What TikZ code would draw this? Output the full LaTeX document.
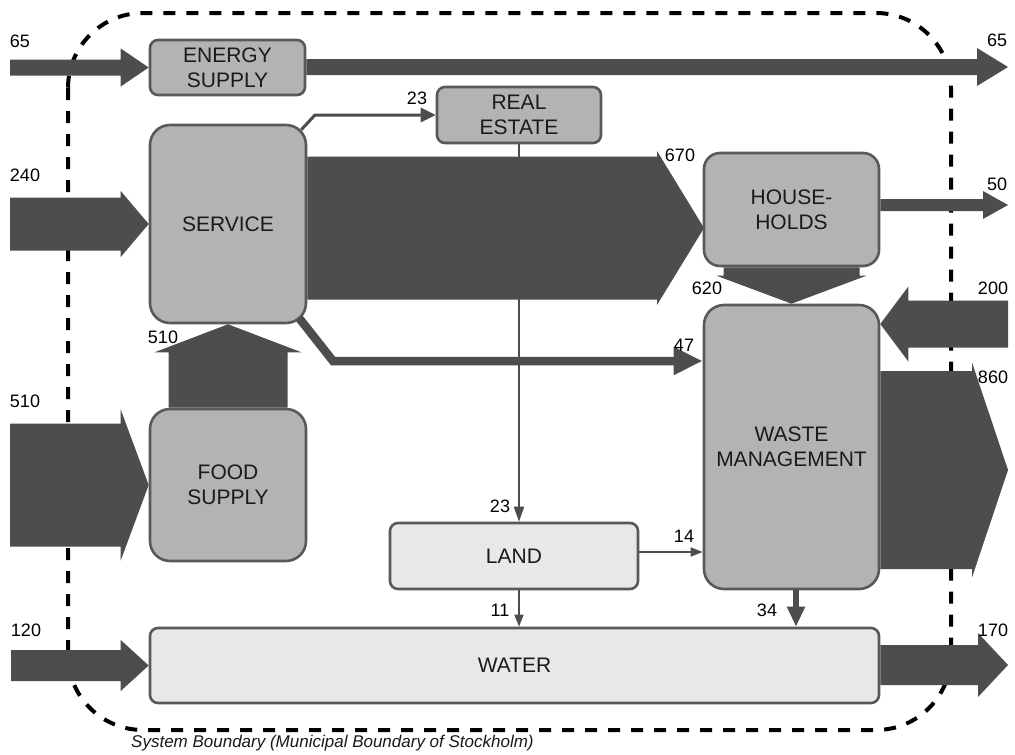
\documentclass[tikz,border=0pt]{standalone}
\usepackage{fontspec}
\setmainfont{Liberation Sans}
\usetikzlibrary{arrows.meta,calc,backgrounds}
\definecolor{flowc}{HTML}{4D4D4D}
\definecolor{boxfill}{HTML}{B3B3B3}
\definecolor{boxline}{HTML}{595959}
\definecolor{lightfill}{HTML}{E8E8E8}
\definecolor{txt}{HTML}{1A1A1A}
% horizontal block arrow: tail, tip, body half width, head half width, signed head length
\newcommand{\fatH}[5]{%
  \fill[flow] let \p1=(#1),\p2=(#2) in
  ({\x1},{\y2+#3pt}) -- ({\x2-(#5pt)},{\y2+#3pt}) -- ({\x2-(#5pt)},{\y2+#4pt}) -- (\p2)
  -- ({\x2-(#5pt)},{\y2-#4pt}) -- ({\x2-(#5pt)},{\y2-#3pt}) -- ({\x1},{\y2-#3pt}) -- cycle;}
% vertical block arrow: tail, tip, body half width, head half width, signed head length (+ = upward)
\newcommand{\fatV}[5]{%
  \fill[flow] let \p1=(#1),\p2=(#2) in
  ({\x2+#3pt},{\y1}) -- ({\x2+#3pt},{\y2-(#5pt)}) -- ({\x2+#4pt},{\y2-(#5pt)}) -- (\p2)
  -- ({\x2-#4pt},{\y2-(#5pt)}) -- ({\x2-#3pt},{\y2-(#5pt)}) -- ({\x2-#3pt},{\y1}) -- cycle;}
\tikzset{
  box/.style={draw=boxline, line width=2.6pt, fill=boxfill, rounded corners=#1, align=center,
    inner sep=0pt, text=txt, font=\fontsize{21}{25}\selectfont},
  box/.default=8pt,
  lightbox/.style={box=#1, fill=lightfill},
  lightbox/.default=8pt,
  flow/.style={fill=flowc},
  num/.style={inner sep=0pt, text=black, font=\fontsize{18}{20}\selectfont},
  boundary/.style={draw=black, line width=4pt, dash pattern=on 12pt off 11pt, rounded corners=75pt},
  link/.style={draw=flowc, line join=miter},
}
\begin{document}
\begin{tikzpicture}[x=1pt,y=-1pt]
\useasboundingbox (0,0) rectangle (1015,755);

% boxes
\node[box] (energy) at (227.5,67.5) [minimum width=155pt, minimum height=55pt] {ENERGY\\SUPPLY};
\node[box] (realestate) at (519,115) [minimum width=164pt, minimum height=56pt] {REAL\\ESTATE};
\node[box=20pt] (service) at (228,224) [minimum width=156pt, minimum height=198pt] {SERVICE};
\node[box=20pt] (food) at (228,485) [minimum width=156pt, minimum height=152pt] {FOOD\\SUPPLY};
\node[box=16pt] (households) at (791.5,209.5) [minimum width=175pt, minimum height=113pt] {HOUSE-\\HOLDS};
\node[box=20pt] (waste) at (791.5,447) [minimum width=175pt, minimum height=284pt] {WASTE\\MANAGEMENT};
\node[lightbox] (land) at (514,556) [minimum width=248pt, minimum height=66pt] {LAND};
\node[lightbox] (water) at (514.5,665.5) [minimum width=729pt, minimum height=75pt] {WATER};

% free ends and bends
\coordinate (eIn) at (10,67);
\coordinate (eOut) at (1008,67);
\coordinate (s240) at (10,223);
\coordinate (t670) at (704,228);
\coordinate (t50) at (1008,205);
\coordinate (s200) at (1008,324);
\coordinate (t860) at (1008,470);
\coordinate (s510) at (10,484);
\coordinate (s120) at (11,663);
\coordinate (t170) at (1008,665);
\coordinate (b23) at (315,115);
\coordinate (b47) at (333,361);
\coordinate (c14) at ($(land.east)+(0,-4)$);
\coordinate (c34) at (796,0);

\begin{pgfonlayer}{background}
\fill[white] (0,0) rectangle (1015,755);
\draw[boundary] (68,13) rectangle (951,730);
\fatH{eIn}{energy.west}{8}{19}{28}
\fatH{energy.east}{eOut}{8}{19}{31}
\fatH{s240}{service.west}{26.5}{33}{28}
\fatH{service.east}{t670}{71.5}{77}{47}
\fatH{households.east}{t50}{6}{14}{25}
\fatV{households.south}{waste.north}{68}{75}{-28}
\fatH{s200}{waste.east |- s200}{23.5}{37.5}{-28}
\fatH{waste.east}{t860}{99}{107.5}{36}
\fatH{s510}{food.west}{61.5}{75.5}{28}
\fatV{food.north}{service.south}{59.5}{73.5}{28}
\fatH{s120}{water.west}{15.5}{25.5}{28}
\fatH{water.east}{t170}{20}{32}{30}
\end{pgfonlayer}

% line flows
\draw[link, line width=3pt, -{Triangle[length=15pt,width=14pt]}] ($(service.north east)+(-6,6)$) -- (b23) -- (realestate.west);
\draw[link, line width=8.5pt, -{Triangle[length=29pt,width=26pt]}] ($(service.south east)+(-8,-6)$) -- (b47) -- (b47 -| waste.west);
\draw[link, line width=2pt, -{Triangle[length=15pt,width=10pt]}] (realestate.south) -- (realestate.south |- land.north);
\draw[link, line width=1.6pt, -{Triangle[length=12pt,width=9pt]}] (realestate.south |- land.south) -- (realestate.south |- water.north);
\draw[link, line width=1.6pt, -{Triangle[length=12pt,width=9pt]}] (c14) -- (c14 -| waste.west);
\draw[link, line width=6pt, -{Triangle[length=20pt,width=17pt]}] (c34 |- waste.south) -- (c34 |- water.north);

% numbers
\node[num] (l65a) at (20,41) {65};
\node[num] (l65b) at (997,40) {65};
\node[num] (l23a) at (417,98) {23};
\node[num] (l240) at (25,175) {240};
\node[num] (l670) at (680,155) {670};
\node[num] (l50) at (997,184) {50};
\node[num] (l620) at (707,288) {620};
\node[num] (l200) at (993,288) {200};
\node[num] (l510a) at (163,337) {510};
\node[num] (l47) at (684,345) {47};
\node[num] (l860) at (993,377) {860};
\node[num] (l510b) at (25,401) {510};
\node[num] (l23b) at (500,506) {23};
\node[num] (l14) at (684,536) {14};
\node[num] (l11) at (500,610) {11};
\node[num] (l34) at (767,610) {34};
\node[num] (l120) at (26,630) {120};
\node[num] (l170) at (993,630) {170};

\node[anchor=west, inner sep=0pt, text=txt, font=\fontsize{17}{19}\selectfont\itshape] (caption) at (131,743) {System Boundary (Municipal Boundary of Stockholm)};
\end{tikzpicture}
\end{document}
